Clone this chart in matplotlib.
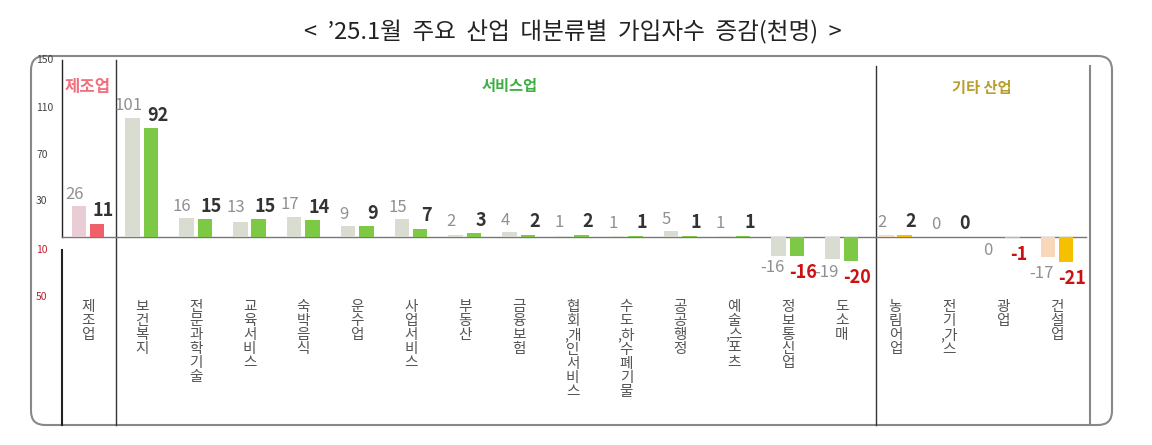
import matplotlib
matplotlib.use('Agg')
import matplotlib.pyplot as plt
from matplotlib.patches import FancyBboxPatch

plt.rcParams['font.family'] = ['Noto Sans CJK KR', 'DejaVu Sans']

categories = ['제조업', '보건복지', '전문과학기술', '교육서비스', '숙박음식', '운수업', '사업서비스',
              '부동산', '금융보험', '협회,개인서비스', '수도,하수폐기물', '공공행정', '예술,스포츠',
              '정보통신업', '도소매', '농림어업', '전기,가스', '광업', '건설업']
prev_vals = [26, 101, 16, 13, 17, 9, 15, 2, 4, 1, 1, 5, 1, -16, -19, 2, 0, 0, -17]
curr_vals = [11, 92, 15, 15, 14, 9, 7, 3, 2, 2, 1, 1, 1, -16, -20, 2, 0, -1, -21]
groups = ['mfg'] + ['svc'] * 14 + ['etc'] * 4
tick_labels = ['150', '110', '70', '30', '10', '50']

prev_col = {'mfg': '#e8cdd5', 'svc': '#d9dcd0', 'etc': '#f8d8b8'}
curr_col = {'mfg': '#f0606a', 'svc': '#7dc845', 'etc': '#f5c000'}


def stack(label):
    # one character per line, a comma sticks to the next character
    lines = []
    pending = ''
    for ch in label:
        if ch == ',':
            pending = ','
        else:
            lines.append(pending + ch)
            pending = ''
    return '\n'.join(lines)


fig = plt.figure(figsize=(11.52, 4.45), dpi=100)

# pixel-coordinate layer for frame, title, separators
bg = fig.add_axes([0, 0, 1, 1])
bg.set_xlim(0, 1152)
bg.set_ylim(445, 0)
bg.axis('off')
bg.add_patch(FancyBboxPatch((31, 56), 1081, 369, boxstyle='round,pad=0,rounding_size=14',
                            fc='white', ec='#888888', lw=1.5))
bg.text(573, 32, '<  ’25.1월  주요  산업  대분류별  가입자수  증감(천명)  >', ha='center', va='center',
        fontsize=17, color='#222222')
bg.plot([62, 62], [60, 237], color='#222222', lw=1)
bg.plot([62, 62], [250, 425], color='#222222', lw=1.5)
bg.plot([116, 116], [60, 425], color='#333333', lw=1)
bg.plot([876, 876], [66, 425], color='#333333', lw=1)
bg.plot([1090, 1090], [66, 425], color='#888888', lw=1.5)
bg.plot([62, 1086], [237, 237], color='#777777', lw=1)
tick_y = [60, 108, 155, 201, 250, 297]
for t, y in zip(tick_labels, tick_y):
    bg.text(36, y, t, fontsize=7.5, color='#c02030' if y > 237 else '#444444', va='center')
bg.text(88, 87, '제조업', ha='center', va='center', fontsize=12, fontweight='bold', color='#f07080')
bg.text(510, 86, '서비스업', ha='center', va='center', fontsize=11, fontweight='bold', color='#3cb043')
bg.text(982, 88, '기타 산업', ha='center', va='center', fontsize=11, fontweight='bold', color='#b8a030')

# data layer
ax = fig.add_axes([0, 0, 1, 1])
ax.patch.set_alpha(0)
step = 53.83
ax.set_xlim((0 - 88) / step, (1152 - 88) / step)
ax.set_ylim((237 - 445) / 1.18, 237 / 1.18)
ax.axis('off')

idx = list(range(len(categories)))
w = 0.27
off = 0.17
for i in idx:
    g = groups[i]
    p, c = prev_vals[i], curr_vals[i]
    ax.bar(i - off, p, w, color=prev_col[g])
    ax.bar(i + off, c, w, color=curr_col[g])
    if c >= 0:
        ax.text(i - off - 0.08, max(p, c, 0) + 3, str(p), ha='center', va='bottom',
                fontsize=12, color='#909090')
        ax.text(i + off + 0.12, max(c, 0) + 3, str(c), ha='center', va='bottom',
                fontsize=13, fontweight='bold', color='#333333')
    else:
        ax.text(i - off - 0.12, min(p, c) - 3, str(p), ha='center', va='top',
                fontsize=12, color='#909090')
        ax.text(i + off + 0.12, min(p, c) - 6, str(c), ha='center', va='top',
                fontsize=13, fontweight='bold', color='#d01010')
    ax.text(i, (237 - 300) / 1.18, stack(categories[i]), ha='center', va='top',
            fontsize=10.5, color='#555555', linespacing=1.0)

fig.savefig('out.png', dpi=100)
